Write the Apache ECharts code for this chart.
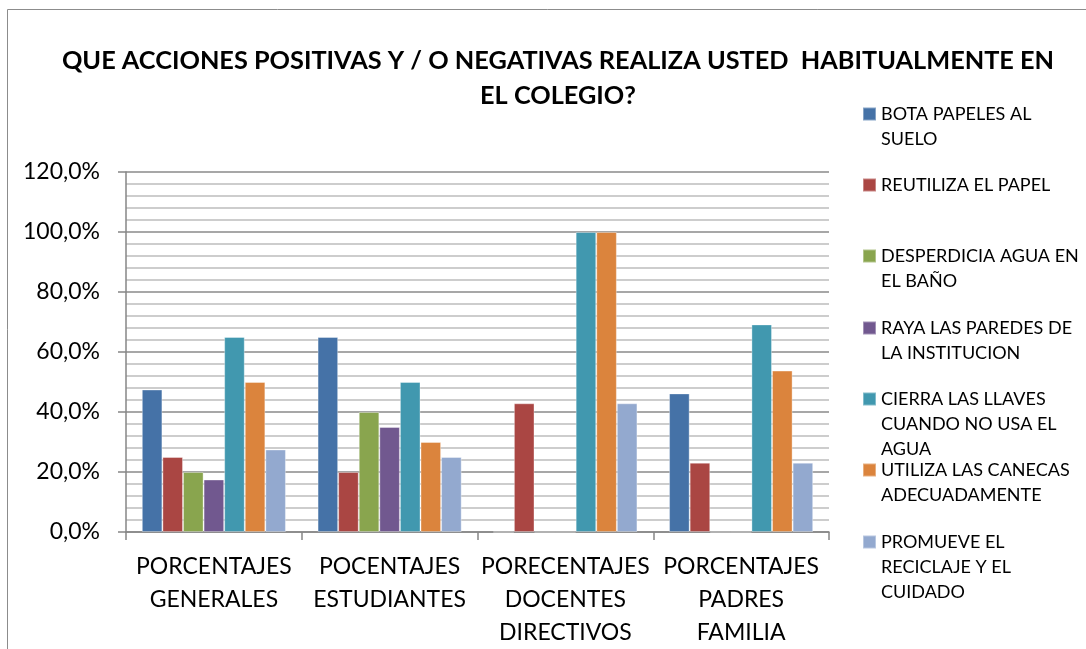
<!DOCTYPE html>
<html>
<head>
<meta charset="utf-8">
<script src="https://cdn.jsdelivr.net/npm/echarts@6/dist/echarts.min.js"></script>
<style>
  html, body { margin: 0; padding: 0; background: #fff; }
  #main { width: 1086px; height: 649px; }
</style>
</head>
<body>
<div id="main"></div>
<script>
// categorias del eje x
var categorias = ['PORCENTAJES\nGENERALES', 'POCENTAJES\nESTUDIANTES', 'PORECENTAJES\nDOCENTES\nDIRECTIVOS', 'PORCENTAJES\nPADRES\nFAMILIA'];

// nombres de las series (leyenda)
var nombres = [
    'BOTA PAPELES AL\nSUELO',
    'REUTILIZA EL PAPEL',
    'DESPERDICIA AGUA EN\nEL BAÑO',
    'RAYA LAS PAREDES DE\nLA INSTITUCION',
    'CIERRA LAS LLAVES\nCUANDO NO USA EL\nAGUA',
    'UTILIZA LAS CANECAS\nADECUADAMENTE',
    'PROMUEVE EL\nRECICLAJE Y EL\nCUIDADO'
];

// valores (fraccion) por serie
var botaPapeles   = [0.475, 0.65, 0, 0.462];
var reutiliza     = [0.25, 0.20, 0.429, 0.231];
var desperdicia   = [0.20, 0.40, 0, 0];
var rayaParedes   = [0.175, 0.35, 0, 0];
var cierraLlaves  = [0.65, 0.50, 1.0, 0.692];
var utilizaCaneca = [0.50, 0.30, 1.0, 0.538];
var promueve      = [0.275, 0.25, 0.429, 0.231];

var valores = [botaPapeles, reutiliza, desperdicia, rayaParedes, cierraLlaves, utilizaCaneca, promueve];
var colores = ['#4572A7', '#AA4643', '#89A54E', '#71588F', '#4198AF', '#DB843D', '#93A9CF'];

// centro vertical del icono de cada item de la leyenda
var legendaY = [114, 185, 256, 328, 399, 470, 542];

var fuente = 'Lato';
var L = 25; // alto de linea de la leyenda

var myChart = echarts.init(document.getElementById('main'));

var series = [];
var legends = [];
for (var i = 0; i < nombres.length; i++) {
    series.push({
        name: nombres[i],
        type: 'bar',
        data: valores[i],
        barGap: '0%',
        barCategoryGap: '18%',
        itemStyle: {
            color: colores[i],
            borderColor: 'rgba(255,255,255,0.35)',
            borderWidth: 1
        }
    });
    var n = nombres[i].split('\n').length;
    legends.push({
        data: [nombres[i]],
        orient: 'vertical',
        left: 862,
        top: legendaY[i] - (2 * n - 1) * L / 2,
        padding: 0,
        itemWidth: 13,
        itemHeight: 13,
        itemGap: 0,
        selectedMode: false,
        icon: 'rect',
        // lineas vacias al inicio para que el icono quede en la primera linea
        formatter: function (name) {
            var k = name.split('\n').length;
            var extra = '';
            for (var j = 1; j < k; j++) extra += ' \n';
            return extra + name;
        },
        textStyle: {
            fontFamily: fuente,
            fontSize: 18,
            color: '#000',
            lineHeight: L
        }
    });
}

var option = {
    animation: false,
    title: {
        text: 'QUE ACCIONES POSITIVAS Y / O NEGATIVAS REALIZA USTED  HABITUALMENTE EN\nEL COLEGIO?',
        left: 553,
        top: 38,
        textAlign: 'center',
        textStyle: {
            fontFamily: fuente,
            fontSize: 25.3,
            fontWeight: 'bold',
            color: '#000',
            lineHeight: 35
        }
    },
    graphic: [{
        type: 'rect',
        shape: { x: 7.5, y: 9.5, width: 1200, height: 800 },
        style: { fill: 'none', stroke: '#8c8c8c', lineWidth: 1 },
        silent: true
    }],
    legend: legends,
    grid: {
        left: 126,
        right: 257,
        top: 172,
        bottom: 117
    },
    xAxis: {
        type: 'category',
        data: categorias,
        axisLine: { lineStyle: { color: '#868686', width: 1.5 } },
        axisTick: { show: true, length: 8, lineStyle: { color: '#868686', width: 1.5 } },
        axisLabel: {
            interval: 0,
            fontFamily: fuente,
            fontSize: 23,
            color: '#000',
            lineHeight: 33,
            margin: 18
        }
    },
    yAxis: {
        type: 'value',
        min: 0,
        max: 1.2,
        interval: 0.2,
        axisLine: { show: true, lineStyle: { color: '#868686', width: 1.5 } },
        axisTick: { show: true, length: 8, lineStyle: { color: '#868686', width: 1.5 } },
        axisLabel: {
            fontFamily: fuente,
            fontSize: 23,
            color: '#000',
            margin: 26,
            formatter: function (v) {
                return (v * 100).toFixed(1).replace('.', ',') + '%';
            }
        },
        splitLine: { show: true, lineStyle: { color: '#8a8a8a', width: 1.5 } },
        minorTick: { show: false, splitNumber: 5 },
        minorSplitLine: { show: true, lineStyle: { color: '#bdbdbd', width: 1.5 } }
    },
    series: series
};

myChart.setOption(option);
</script>
</body>
</html>
